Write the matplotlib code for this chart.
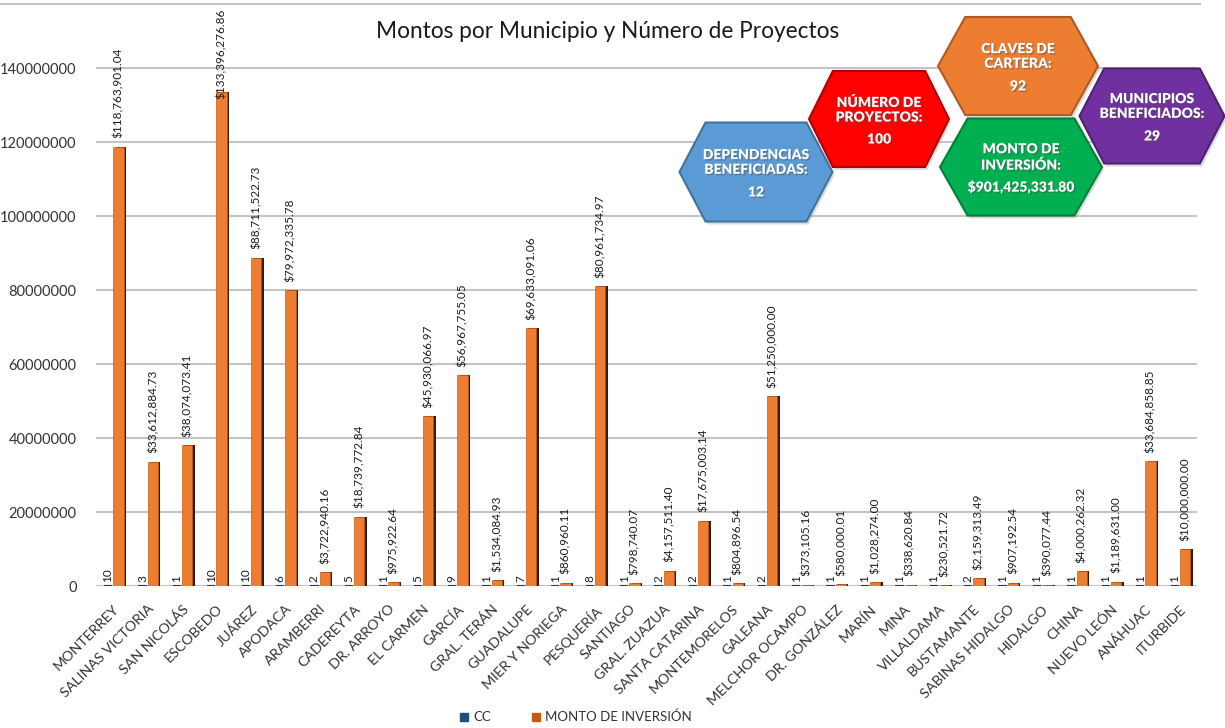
import numpy as np
import matplotlib
matplotlib.use("Agg")
import matplotlib.pyplot as plt
import matplotlib.patheffects as pe
from matplotlib.patches import Polygon
from matplotlib.lines import Line2D

plt.rcParams['font.family'] = ['Lato', 'DejaVu Sans']

municipios = ["MONTERREY", "SALINAS VICTORIA", "SAN NICOLÁS", "ESCOBEDO", "JUÁREZ", "APODACA",
              "ARAMBERRI", "CADEREYTA", "DR. ARROYO", "EL CARMEN", "GARCÍA", "GRAL. TERÁN",
              "GUADALUPE", "MIER Y NORIEGA", "PESQUERÍA", "SANTIAGO", "GRAL. ZUAZUA",
              "SANTA CATARINA", "MONTEMORELOS", "GALEANA", "MELCHOR OCAMPO", "DR. GONZÁLEZ",
              "MARÍN", "MINA", "VILLALDAMA", "BUSTAMANTE", "SABINAS HIDALGO", "HIDALGO",
              "CHINA", "NUEVO LEÓN", "ANÁHUAC", "ITURBIDE"]
cc = [10, 3, 1, 10, 10, 6, 2, 5, 1, 5, 9, 1, 7, 1, 8, 1, 2, 2, 1, 2, 1, 1, 1, 1, 1, 2, 1, 1, 1, 1, 1, 1]
monto = [118763901.04, 33612884.73, 38074073.41, 133396276.86, 88711522.73, 79972335.78,
         3722940.16, 18739772.84, 975922.64, 45930066.97, 56967755.05, 1534084.93,
         69633091.06, 860960.11, 80961734.97, 798740.07, 4157511.40, 17675003.14,
         804896.54, 51250000.00, 373105.16, 580000.01, 1028274.00, 338620.84,
         230521.72, 2159313.49, 907192.54, 390077.44, 4000262.32, 1189631.00,
         33684858.85, 10000000.00]
yticks = [0, 20000000, 40000000, 60000000, 80000000, 100000000, 120000000, 140000000]

tarjetas = ["DEPENDENCIAS\nBENEFICIADAS:", "NÚMERO DE\nPROYECTOS:", "CLAVES DE\nCARTERA:",
            "MONTO DE\nINVERSIÓN:", "MUNICIPIOS\nBENEFICIADOS:"]
tarjetas_valor = ["12", "100", "92", "$901,425,331.80", "29"]
tarjetas_color = ["#5B9BD5", "#FF0000", "#ED7D31", "#00B050", "#7030A0"]
tarjetas_borde = ["#41719C", "#B00000", "#AE5A21", "#00803A", "#4E2272"]
# centro x, centro y, ancho, alto (pixeles de la figura)
tarjetas_pos = [(756, 172, 153, 99), (879, 119, 140, 96), (1018, 66, 160, 98),
                (1021, 167, 162, 97), (1152, 116, 145, 95)]

W, H = 1225, 728
YMAX = 157.3e6


def hexagono(cx, cy, w, h):
    s = 0.17 * w
    return [(cx - w / 2, cy), (cx - w / 2 + s, cy - h / 2), (cx + w / 2 - s, cy - h / 2),
            (cx + w / 2, cy), (cx + w / 2 - s, cy + h / 2), (cx - w / 2 + s, cy + h / 2)]


def dibujargrafica():
    fig = plt.figure(figsize=(W / 100, H / 100), dpi=100)
    ax = fig.add_axes([96 / W, 1 - 586 / H, (1197 - 96) / W, (586 - 4) / H])
    x = np.arange(len(municipios))

    ax.bar(x - 0.15, cc, width=0.24, color="#1F4E79", edgecolor="#1F3864", linewidth=1.5, zorder=3)
    ax.bar(x + 0.22, monto, width=0.3, color="#3A1A06", zorder=2)
    ax.bar(x + 0.15, monto, width=0.3, color="#ED7D31", edgecolor="#C55A11", linewidth=0.5, zorder=3)

    for i in range(len(municipios)):
        etiqueta = f"${monto[i]:,.2f}"
        if monto[i] > 125e6:
            # no cabe arriba de la barra, se pega al borde superior como en Excel
            ax.annotate(etiqueta, (x[i] + 0.15, YMAX), xytext=(0, -3),
                        textcoords="offset points", rotation=90, ha="center", va="top",
                        fontsize=8.5, color="#1a1a1a", zorder=4)
        else:
            ax.annotate(etiqueta, (x[i] + 0.15, monto[i]), xytext=(0, 6),
                        textcoords="offset points", rotation=90, ha="center", va="bottom",
                        fontsize=8.5, color="#1a1a1a")
        ax.annotate(str(cc[i]), (x[i] - 0.15, 0), xytext=(0, 3),
                    textcoords="offset points", rotation=90, ha="center", va="bottom",
                    fontsize=8.5, color="#1a1a1a")

    ax.set_xlim(-0.5, len(municipios) - 0.5)
    ax.set_ylim(0, YMAX)
    ax.set_yticks(yticks)
    ax.set_yticklabels([str(v) for v in yticks])
    ax.set_xticks(x)
    ax.set_xticklabels(municipios, rotation=45, ha="right", va="top", rotation_mode="anchor")
    ax.tick_params(axis="y", length=0, pad=14, labelsize=10.5, colors="#333333")
    ax.tick_params(axis="x", length=0, pad=12, labelsize=10.3, colors="#333333")
    ax.yaxis.grid(True, color="#C4C4C4", linewidth=1.5)
    ax.set_axisbelow(True)
    for s in ax.spines.values():
        s.set_visible(False)

    fig.add_artist(Line2D([0, 1200 / W], [1 - 4 / H, 1 - 4 / H], color="#C4C4C4", linewidth=1.5))

    fig.text(608 / W, 1 - 31 / H, "Montos por Municipio y Número de Proyectos",
             ha="center", va="center", fontsize=16.3, color="#1a1a1a")

    handles = [Line2D([], [], marker="s", ls="", color="#1F4E79", markersize=6),
               Line2D([], [], marker="s", ls="", color="#C55A11", markersize=6)]
    fig.legend(handles, ["CC", "MONTO DE INVERSIÓN"], loc="center",
               bbox_to_anchor=(575 / W, 1 - 717 / H), ncol=2, frameon=False,
               fontsize=9.5, handletextpad=0.3, columnspacing=3, handlelength=0.8,
               labelcolor="#333333")

    # hexagonos con los totales
    ov = fig.add_axes([0, 0, 1, 1], zorder=5)
    ov.set_xlim(0, W)
    ov.set_ylim(H, 0)
    ov.axis("off")
    sombra = [pe.SimplePatchShadow(offset=(1, -1), alpha=0.45), pe.Normal()]
    for (cx, cy, w, h), t, v, c, b in zip(tarjetas_pos, tarjetas, tarjetas_valor,
                                          tarjetas_color, tarjetas_borde):
        ov.add_patch(Polygon(hexagono(cx + 2, cy + 3, w, h), closed=True, color="#999999",
                             alpha=0.35, linewidth=0))
        ov.add_patch(Polygon(hexagono(cx, cy, w, h), closed=True, facecolor=c,
                             edgecolor=b, linewidth=1.5))
        ov.text(cx, cy - 10, t, ha="center", va="center", fontsize=10, fontweight="heavy",
                color="white", linespacing=1.15, path_effects=sombra)
        ov.text(cx, cy + 20, v, ha="center", va="center", fontsize=10, fontweight="heavy",
                color="white", path_effects=sombra)

    fig.savefig("out.png", dpi=100)


def main():
    dibujargrafica()


main()
